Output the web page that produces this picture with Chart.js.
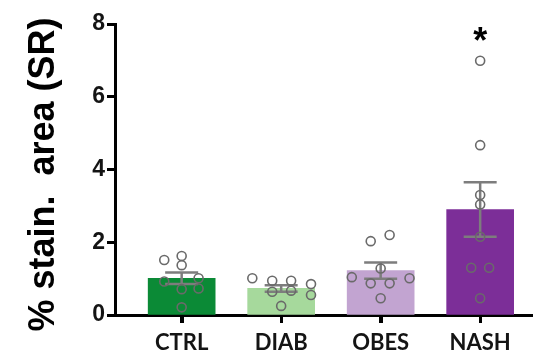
<!DOCTYPE html>
<html>
<head>
<meta charset="utf-8">
<script src="https://cdn.jsdelivr.net/npm/chart.js@4/dist/chart.umd.min.js"></script>
<style>
  html, body { margin: 0; padding: 0; background: #ffffff; }
  #wrap { width: 539px; height: 355px; }
</style>
</head>
<body>
<div id="wrap"><canvas id="c" width="539" height="355"></canvas></div>
<script>
// Groups and their fill colours
const categories = ['CTRL', 'DIAB', 'OBES', 'NASH'];
const barColors = ['#0b8a36', '#a6d99c', '#c2a4d1', '#7c2e98'];

// Group means and standard errors
const means = [1.01, 0.73, 1.22, 2.90];
const sems = [0.16, 0.09, 0.22, 0.75];

// Individual measurements per group
const ctrlPoints = [1.51, 1.62, 1.37, 0.92, 1.01, 0.71, 0.73, 0.21];
const diabPoints = [1.01, 0.94, 0.94, 0.85, 0.64, 0.67, 0.55, 0.25];
const obesPoints = [2.20, 2.03, 1.28, 1.04, 1.01, 0.87, 0.87, 0.46];
const nashPoints = [6.99, 4.67, 3.30, 3.04, 2.15, 1.30, 1.30, 0.46];

// Y axis ticks
const yTicks = [0, 2, 4, 6, 8];

// Horizontal spread of the dots inside each group (in category widths)
const ctrlSpread = [-0.175, 0, 0, -0.175, 0.17, 0, 0.17, 0];
const diabSpread = [-0.29, -0.09, 0.10, 0.30, -0.09, 0.10, 0.30, 0];
const obesSpread = [0.09, -0.10, 0, -0.29, 0.29, -0.10, 0.09, 0];
const nashSpread = [0, 0, 0, 0, 0, -0.09, 0.09, 0];

const groupPoints = [ctrlPoints, diabPoints, obesPoints, nashPoints];
const groupSpread = [ctrlSpread, diabSpread, obesSpread, nashSpread];

const barData = categories.map((c, i) => ({ x: i + 1, y: means[i] }));
const dotData = [];
groupPoints.forEach((pts, g) => {
  pts.forEach((v, k) => dotData.push({ x: g + 1 + groupSpread[g][k], y: v }));
});

// Mean ± SEM whiskers, drawn right after the bars
const errorBars = {
  id: 'errorBars',
  afterDatasetDraw(chart, args) {
    if (args.index !== 0) return;
    const { ctx, scales: { x, y } } = chart;
    ctx.save();
    ctx.strokeStyle = '#7d7d7d';
    ctx.lineWidth = 2.5;
    ctx.lineCap = 'butt';
    means.forEach((m, i) => {
      const px = x.getPixelForValue(i + 1);
      const top = y.getPixelForValue(m + sems[i]);
      const bot = y.getPixelForValue(m - sems[i]);
      const half = 16.5;
      ctx.beginPath();
      ctx.moveTo(px, top); ctx.lineTo(px, bot);
      ctx.moveTo(px - half, top); ctx.lineTo(px + half, top);
      ctx.moveTo(px - half, bot); ctx.lineTo(px + half, bot);
      ctx.stroke();
    });
    ctx.restore();
  }
};

// Short tick marks under each group on the x axis
const categoryTicks = {
  id: 'categoryTicks',
  afterDraw(chart) {
    const { ctx, scales: { x } } = chart;
    ctx.save();
    ctx.strokeStyle = '#000000';
    ctx.lineWidth = 3;
    categories.forEach((c, i) => {
      const px = Math.round(x.getPixelForValue(i + 1)) + 0.5;
      ctx.beginPath();
      ctx.moveTo(px, x.top);
      ctx.lineTo(px, x.top + 8);
      ctx.stroke();
    });
    ctx.restore();
  }
};

// Significance mark above the NASH group
const significance = {
  id: 'significance',
  afterDatasetsDraw(chart) {
    const { ctx, scales: { x, y } } = chart;
    const px = x.getPixelForValue(4);
    const py = y.getPixelForValue(Math.max(...nashPoints));
    ctx.save();
    ctx.fillStyle = '#000000';
    ctx.font = 'bold 36px "Liberation Sans", Arial, sans-serif';
    ctx.textAlign = 'center';
    ctx.textBaseline = 'alphabetic';
    ctx.fillText('*', px, py - 8);
    ctx.restore();
  }
};

new Chart(document.getElementById('c'), {
  type: 'bar',
  data: {
    datasets: [
      {
        type: 'bar',
        data: barData,
        backgroundColor: barColors,
        borderWidth: 0,
        barThickness: 67,
        grouped: false,
        xAxisID: 'x',
        yAxisID: 'y',
        order: 2
      },
      {
        type: 'scatter',
        data: dotData,
        pointRadius: 4.5,
        pointBorderWidth: 1.6,
        pointBackgroundColor: 'rgba(0,0,0,0)',
        pointBorderColor: '#6a6a6a',
        showLine: false,
        xAxisID: 'x',
        yAxisID: 'y',
        order: 1
      }
    ]
  },
  options: {
    responsive: false,
    animation: false,
    devicePixelRatio: 1,
    layout: { padding: { top: 24, right: 0, bottom: 0, left: 0 } },
    plugins: {
      legend: { display: false },
      tooltip: { enabled: false }
    },
    scales: {
      x: {
        type: 'linear',
        position: 'bottom',
        min: 0.33,
        max: 4.53,
        offset: false,
        afterBuildTicks(axis) {
          axis.ticks = categories.map((c, i) => ({ value: i + 1 }));
        },
        afterFit(axis) { axis.height = 40; },
        grid: {
          display: true,
          offset: false,
          drawOnChartArea: false,
          drawTicks: true,
          tickLength: 8,
          tickWidth: 3,
          tickColor: '#000000'
        },
        border: { display: true, color: '#000000', width: 3 },
        ticks: {
          autoSkip: false,
          maxRotation: 0,
          padding: 7,
          color: '#141414',
          font: { family: 'Lato, "Open Sans", sans-serif', weight: 'bold', size: 22 },
          callback: (v) => categories[Math.round(v) - 1] || ''
        }
      },
      y: {
        type: 'linear',
        position: 'left',
        min: 0,
        max: 8,
        afterBuildTicks(axis) {
          axis.ticks = yTicks.map(v => ({ value: v }));
        },
        afterFit(axis) { axis.width = 115; },
        grid: {
          display: true,
          drawOnChartArea: false,
          drawTicks: true,
          tickLength: 8,
          tickWidth: 3,
          tickColor: '#000000'
        },
        border: { display: true, color: '#000000', width: 3 },
        ticks: {
          padding: 2,
          color: '#141414',
          font: { family: '"Liberation Sans", Arial, sans-serif', weight: 'bold', size: 23 }
        },
        title: {
          display: true,
          text: '% stain.  area (SR) ',
          color: '#000000',
          padding: { top: 22, bottom: 0 },
          font: { family: '"Liberation Sans", Arial, sans-serif', weight: 'bold', size: 36 }
        }
      }
    }
  },
  plugins: [errorBars, categoryTicks, significance]
});
</script>
</body>
</html>
